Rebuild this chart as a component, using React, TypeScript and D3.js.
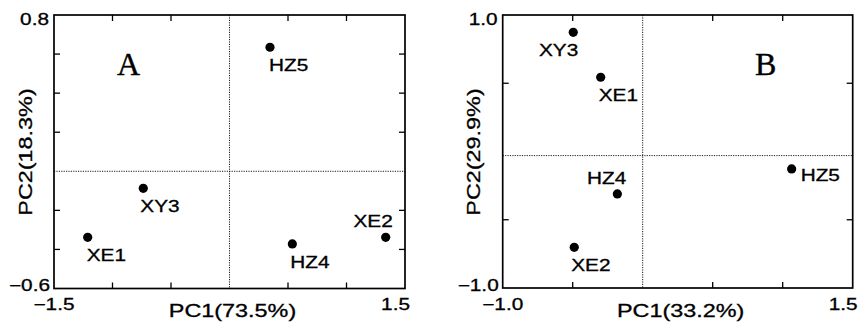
import React from 'react'
import * as d3 from 'd3'

// sample names, shared by both panels
const samples = ['XY3', 'XE1', 'HZ4', 'XE2', 'HZ5']

// panel A scores (PC1 73.5%, PC2 18.3%)
const scoresA_pc1 = [-0.737, -1.212, 0.537, 1.335, 0.346]
const scoresA_pc2 = [-0.087, -0.338, -0.372, -0.338, 0.635]

// panel B scores (PC1 33.2%, PC2 29.9%)
const scoresB_pc1 = [-0.496, -0.300, -0.181, -0.489, 1.064]
const scoresB_pc2 = [0.873, 0.544, -0.311, -0.702, -0.128]

const xTicksA = [-1, -0.5, 0.5, 1]
const yTicksA = [-0.4, -0.2, 0.2, 0.4, 0.6]
const xTicksB = [-0.5, 0.5, 1.0]
const yTicksB = [-0.5, 0.5]

const SANS = '"Liberation Sans", Arial, sans-serif'
const SERIF = '"Liberation Serif", "Times New Roman", serif'
const STRETCH = 1.3

// label placement (offsets from the dot)
const placeA = {
    HZ5: { anchor: 'start', dx: -1, dy: 24 },
    XY3: { anchor: 'start', dx: -3, dy: 24 },
    XE1: { anchor: 'start', dx: -1, dy: 24 },
    HZ4: { anchor: 'start', dx: -2, dy: 24 },
    XE2: { anchor: 'end', dx: 7, dy: -10.5 },
}
const placeB = {
    XY3: { anchor: 'end', dx: 5, dy: 24 },
    XE1: { anchor: 'start', dx: -2, dy: 24 },
    HZ4: { anchor: 'end', dx: 9, dy: -10 },
    XE2: { anchor: 'start', dx: -3, dy: 24 },
    HZ5: { anchor: 'start', dx: 9, dy: 12 },
}

function Txt({ x, y, size, anchor = 'start', rotate = 0, children }) {
    return (
        <text
            transform={`translate(${x},${y}) rotate(${rotate}) scale(${STRETCH},1)`}
            fontFamily={SANS}
            fontSize={size}
            textAnchor={anchor}
            fill='#000'
            stroke='#000'
            strokeWidth={0.3}
        >
            {children}
        </text>
    )
}

function Panel({ left, right, top, bottom, xDomain, yDomain, xTicks, yTicks, refX, refY,
    pc1, pc2, place, letter, letterX, xTitle, yTitle, xFmt, yFmt }) {
    const x = d3.scaleLinear().domain(xDomain).range([left, right])
    const y = d3.scaleLinear().domain(yDomain).range([bottom, top])
    const tick = 6
    const cx = (left + right) / 2
    return (
        <g>
            {/* reference lines */}
            <line x1={x(refX)} x2={x(refX)} y1={top} y2={bottom} stroke='#000' strokeWidth={0.9} strokeDasharray='1.2,1.2' />
            <line x1={left} x2={right} y1={y(refY)} y2={y(refY)} stroke='#000' strokeWidth={0.9} strokeDasharray='1.2,1.2' />
            {/* ticks, inward on all sides */}
            {xTicks.map(t => <g key={'x' + t}>
                <line x1={x(t)} x2={x(t)} y1={bottom} y2={bottom - tick} stroke='#000' strokeWidth={1.3} />
                <line x1={x(t)} x2={x(t)} y1={top} y2={top + tick} stroke='#000' strokeWidth={1.3} />
            </g>)}
            {yTicks.map(t => <g key={'y' + t}>
                <line x1={left} x2={left + tick} y1={y(t)} y2={y(t)} stroke='#000' strokeWidth={1.3} />
                <line x1={right} x2={right - tick} y1={y(t)} y2={y(t)} stroke='#000' strokeWidth={1.3} />
            </g>)}
            <rect x={left} y={top} width={right - left} height={bottom - top} fill='none' stroke='#000' strokeWidth={1.7} />
            {/* end labels */}
            <Txt x={left - 5} y={top + 9.8} size={16} anchor='end'>{yFmt(yDomain[1])}</Txt>
            <Txt x={left - 4} y={bottom + 2.5} size={16} anchor='end'>{yFmt(yDomain[0])}</Txt>
            <Txt x={left} y={bottom + 21.5} size={16} anchor='middle'>{xFmt(xDomain[0])}</Txt>
            <Txt x={right + 5} y={bottom + 21.5} size={16} anchor='end'>{xFmt(xDomain[1])}</Txt>
            {/* titles */}
            <Txt x={cx + 3} y={316.5} size={18} anchor='middle'>{xTitle}</Txt>
            <Txt x={left - 22.5} y={152} size={18} anchor='middle' rotate={-90}>{yTitle}</Txt>
            <text x={letterX} y={75} fontFamily={SERIF} fontSize={32} fill='#000' stroke='#000' strokeWidth={0.4}>{letter}</text>
            {/* points */}
            {samples.map((s, i) => {
                const px = x(pc1[i]), py = y(pc2[i])
                const p = place[s]
                return <g key={s}>
                    <circle cx={px} cy={py} r={4.6} fill='#000' />
                    <Txt x={px + p.dx} y={py + p.dy} size={16} anchor={p.anchor}>{s}</Txt>
                </g>
            })}
        </g>
    )
}

const minus = (s: string) => s.replace('-', '\u2212')

export default function App() {
    return (
        <svg width={859} height={329} style={{ position: 'absolute', left: 0, top: 0, background: '#fff' }}>
            <rect width={859} height={329} fill='#fff' />
            <Panel left={54} right={405} top={15} bottom={288.5}
                xDomain={[-1.5, 1.5]} yDomain={[-0.6, 0.8]}
                xTicks={xTicksA} yTicks={yTicksA} refX={0} refY={0}
                pc1={scoresA_pc1} pc2={scoresA_pc2} place={placeA}
                letter='A' letterX={117} xTitle='PC1(73.5%)' yTitle='PC2(18.3%)'
                xFmt={v => minus(d3.format('.1f')(v))} yFmt={v => minus(d3.format('.1f')(v))} />
            <Panel left={502.7} right={852.7} top={15} bottom={288}
                xDomain={[-1.0, 1.5]} yDomain={[-1.0, 1.0]}
                xTicks={xTicksB} yTicks={yTicksB} refX={0} refY={-0.03}
                pc1={scoresB_pc1} pc2={scoresB_pc2} place={placeB}
                letter='B' letterX={755} xTitle='PC1(33.2%)' yTitle='PC2(29.9%)'
                xFmt={v => minus(d3.format('.1f')(v))} yFmt={v => minus(d3.format('.1f')(v))} />
        </svg>
    )
}
